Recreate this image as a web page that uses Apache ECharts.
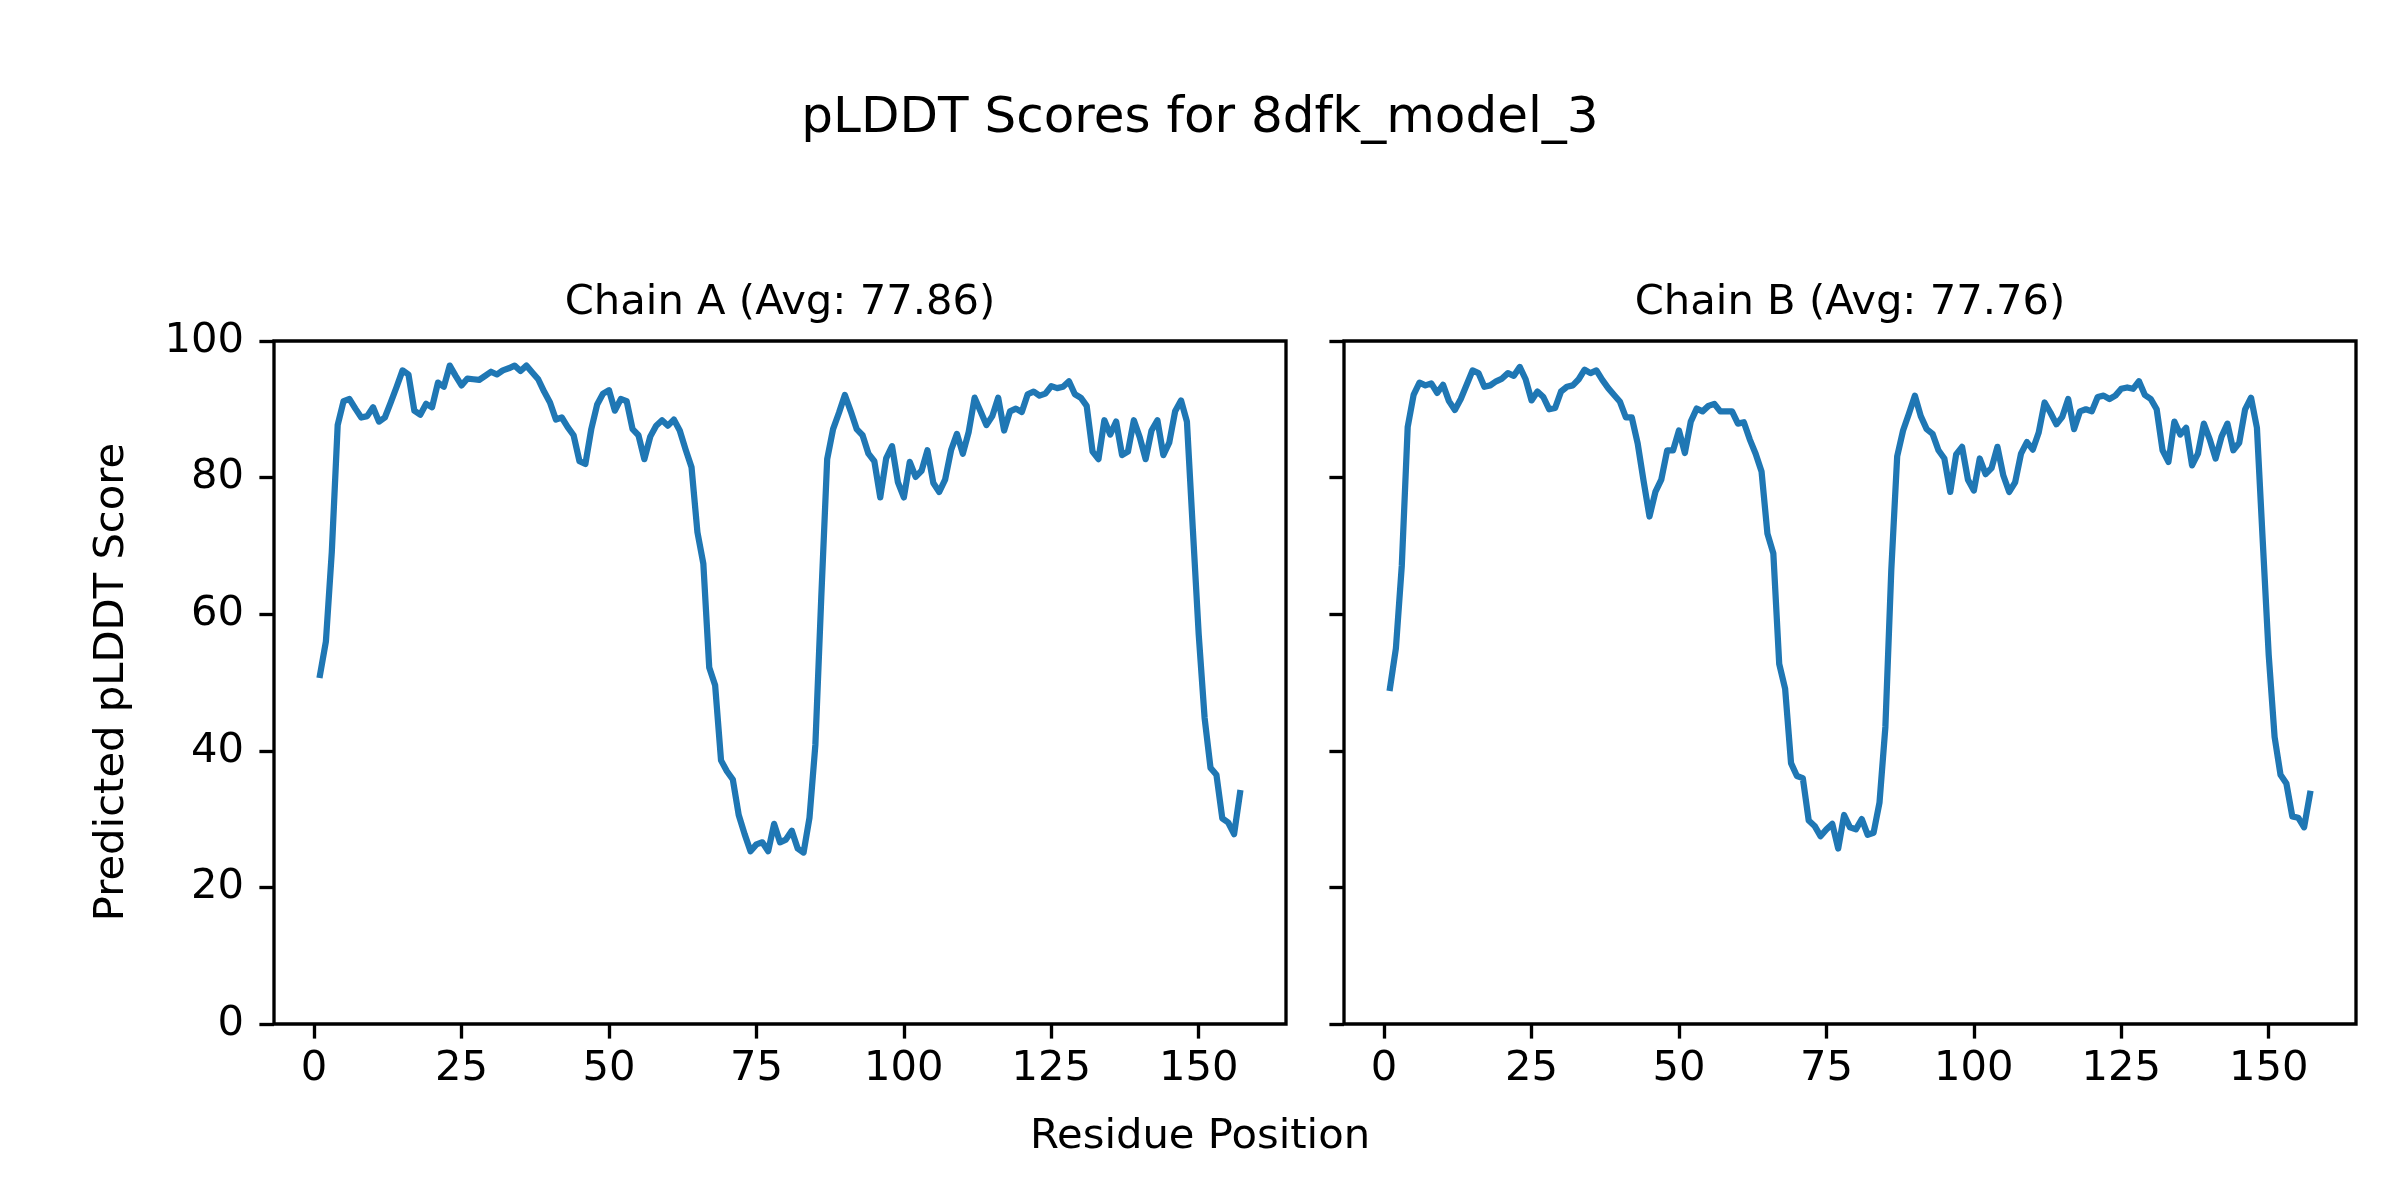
<!DOCTYPE html>
<html>
<head>
<meta charset="utf-8">
<script src="https://cdn.jsdelivr.net/npm/echarts@6/dist/echarts.min.js"></script>
<style>
html,body{margin:0;padding:0;background:#fff;}
#chart{width:2400px;height:1200px;}
</style>
</head>
<body>
<div id="chart"></div>
<script>
const figTitle = "pLDDT Scores for 8dfk_model_3";
const chainTitles = ["Chain A (Avg: 77.86)", "Chain B (Avg: 77.76)"];
const xLabel = "Residue Position";
const yLabel = "Predicted pLDDT Score";
const xTicks = [0, 25, 50, 75, 100, 125, 150];
const yTicks = [0, 20, 40, 60, 80, 100];

const chainA = [
  51.1, 56.0, 69.1, 87.7, 91.2, 91.5, 90.1, 88.8, 89.0, 90.3,
  88.2, 88.8, 91.0, 93.3, 95.7, 95.1, 89.8, 89.2, 90.8, 90.3,
  93.9, 93.3, 96.4, 94.9, 93.5, 94.5, 94.4, 94.3, 94.9, 95.5,
  95.1, 95.7, 96.0, 96.4, 95.6, 96.4, 95.4, 94.4, 92.6, 91.0,
  88.5, 88.8, 87.4, 86.2, 82.4, 82.0, 87.1, 90.7, 92.3, 92.8,
  89.8, 91.5, 91.2, 87.1, 86.2, 82.7, 86.0, 87.6, 88.4, 87.6,
  88.5, 86.9, 84.1, 81.5, 72.0, 67.4, 52.2, 49.6, 38.6, 37.0,
  35.8, 30.6, 27.8, 25.3, 26.3, 26.6, 25.3, 29.3, 26.6, 27.0,
  28.3, 25.7, 25.1, 30.2, 40.9, 62.5, 82.7, 87.1, 89.5, 92.1,
  89.7, 87.1, 86.2, 83.5, 82.4, 77.1, 82.8, 84.6, 79.3, 77.1,
  82.3, 80.1, 81.0, 84.0, 79.2, 77.9, 79.7, 84.0, 86.4, 83.5,
  86.7, 91.7, 89.7, 87.7, 89.0, 91.7, 86.9, 89.7, 90.1, 89.6,
  92.2, 92.6, 92.0, 92.3, 93.4, 93.1, 93.3, 94.1, 92.2, 91.7,
  90.5, 83.8, 82.7, 88.4, 86.3, 88.2, 83.3, 83.8, 88.4, 85.9,
  82.7, 86.9, 88.4, 83.3, 85.1, 89.7, 91.3, 88.2, 72.5, 57.0,
  44.8, 37.5, 36.5, 30.1, 29.5, 27.8, 33.8
];

const chainB = [
  49.2, 55.0, 67.1, 87.4, 92.1, 93.9, 93.5, 93.8, 92.4, 93.6,
  91.2, 89.9, 91.5, 93.6, 95.7, 95.3, 93.3, 93.5, 94.1, 94.5,
  95.3, 94.9, 96.2, 94.4, 91.3, 92.6, 91.8, 90.0, 90.2, 92.6,
  93.3, 93.5, 94.4, 95.8, 95.3, 95.7, 94.3, 93.1, 92.1, 91.1,
  88.8, 88.8, 85.0, 79.5, 74.3, 77.9, 79.7, 84.0, 84.0, 86.9,
  83.6, 88.2, 90.1, 89.7, 90.5, 90.8, 89.7, 89.7, 89.7, 87.9,
  88.1, 85.6, 83.5, 80.9, 71.8, 68.9, 52.7, 49.1, 38.2, 36.3,
  36.0, 29.8, 29.0, 27.5, 28.5, 29.3, 25.7, 30.6, 28.8, 28.5,
  30.0, 27.7, 28.0, 32.4, 43.5, 66.4, 83.1, 86.9, 89.4, 92.0,
  89.0, 87.1, 86.4, 84.0, 82.8, 77.9, 83.4, 84.5, 79.7, 78.1,
  82.8, 80.5, 81.4, 84.5, 80.3, 77.9, 79.3, 83.5, 85.2, 84.1,
  86.6, 91.0, 89.5, 87.8, 88.9, 91.5, 87.1, 89.7, 90.0, 89.7,
  91.8, 92.0, 91.5, 92.0, 93.0, 93.2, 93.0, 94.1, 92.1, 91.5,
  90.0, 84.0, 82.3, 88.2, 86.3, 87.3, 81.8, 83.5, 87.9, 85.6,
  82.8, 86.0, 87.9, 84.0, 85.1, 90.0, 91.7, 87.3, 70.5, 54.0,
  42.0, 36.5, 35.2, 30.4, 30.2, 28.8, 33.7
];

const FONT = "DejaVu Sans";
const TICK_FS = 41.7;
const SPINE = 3.33;

function toPairs(arr) { return arr.map((v, i) => [i + 1, v]); }

const grids = [
  {left: 274, top: 341, width: 1012, height: 683},
  {left: 1344, top: 341, width: 1012, height: 683}
];

function xAxisFor(gi) {
  return {
    type: 'value', gridIndex: gi, min: -6.8, max: 164.8, position: 'bottom',
    axisLine: {show: false, onZero: false},
    splitLine: {show: false},
    axisTick: {show: true, length: 14.6, inside: false, customValues: xTicks,
      lineStyle: {color: '#000', width: SPINE}},
    axisLabel: {show: true, customValues: xTicks, margin: 24,
      fontSize: TICK_FS, fontFamily: FONT, color: '#000'}
  };
}
function yAxisFor(gi, showLabels) {
  return {
    type: 'value', gridIndex: gi, min: 0, max: 100, interval: 20, position: 'left',
    axisLine: {show: false, onZero: false},
    splitLine: {show: false},
    axisTick: {show: true, length: 14.6, inside: false, customValues: yTicks,
      lineStyle: {color: '#000', width: SPINE}},
    axisLabel: {show: showLabels, customValues: yTicks, margin: 30, fontSize: TICK_FS,
      fontFamily: FONT, color: '#000'}
  };
}

const option = {
  backgroundColor: '#ffffff',
  animation: false,
  grid: grids.map(g => Object.assign({show: true, borderColor: '#000', borderWidth: SPINE,
    backgroundColor: 'transparent', containLabel: false}, g)),
  xAxis: [xAxisFor(0), xAxisFor(1)],
  yAxis: [yAxisFor(0, true), yAxisFor(1, false)],
  series: [
    {type: 'line', xAxisIndex: 0, yAxisIndex: 0, data: toPairs(chainA), showSymbol: false,
      lineStyle: {color: '#1f77b4', width: 6.25, join: 'round', cap: 'square'}, z: 1},
    {type: 'line', xAxisIndex: 1, yAxisIndex: 1, data: toPairs(chainB), showSymbol: false,
      lineStyle: {color: '#1f77b4', width: 6.25, join: 'round', cap: 'square'}, z: 1}
  ],
  graphic: [
    {type: 'text', x: 1200, y: 119, style: {text: figTitle, fontSize: 50, fontFamily: FONT,
      fill: '#000', align: 'center', verticalAlign: 'middle'}},
    {type: 'text', x: 780, y: 303, style: {text: chainTitles[0], fontSize: 41.7, fontFamily: FONT,
      fill: '#000', align: 'center', verticalAlign: 'middle'}},
    {type: 'text', x: 1850, y: 303, style: {text: chainTitles[1], fontSize: 41.7, fontFamily: FONT,
      fill: '#000', align: 'center', verticalAlign: 'middle'}},
    {type: 'text', x: 1200, y: 1137, style: {text: xLabel, fontSize: 41.7, fontFamily: FONT,
      fill: '#000', align: 'center', verticalAlign: 'middle'}},
    {type: 'text', x: 112, y: 682, rotation: Math.PI / 2, style: {text: yLabel, fontSize: 41.7,
      fontFamily: FONT, fill: '#000', align: 'center', verticalAlign: 'middle'}}
  ]
};

const chart = echarts.init(document.getElementById('chart'), null, {renderer: 'canvas'});
chart.setOption(option);
</script>
</body>
</html>
